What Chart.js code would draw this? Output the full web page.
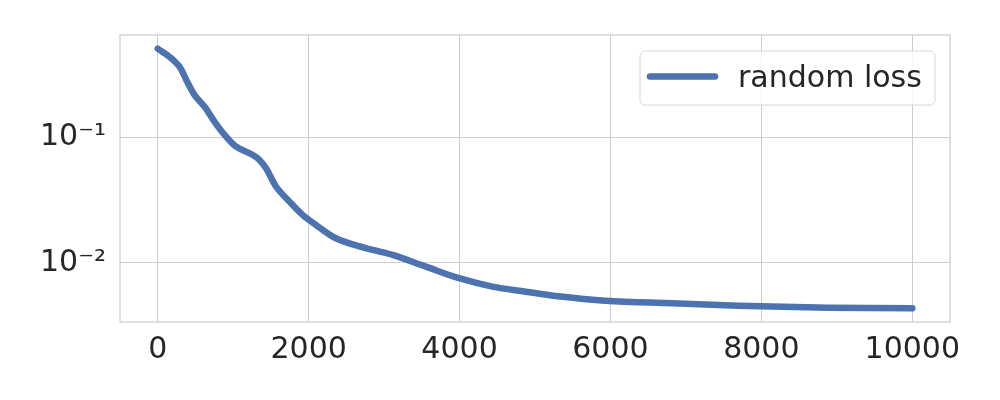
<!DOCTYPE html>
<html>
<head>
<meta charset="utf-8">
<script src="https://cdn.jsdelivr.net/npm/chart.js@4"></script>
<style>
html,body{margin:0;padding:0;background:#ffffff;}
#wrap{width:1000px;height:400px;}
</style>
</head>
<body>
<div id="wrap"><canvas id="c" width="1000" height="400"></canvas></div>
<script>
// ---- data ----
const steps = [0,159,291,380,489,622,754,886,1041,1261,1349,1438,1570,1746,1923,2099,2319,2540,2848,3113,3554,3995,4435,4877,5273,5935,6816,7698,8889,10000];
const lossValues = [0.503,0.433,0.361,0.283,0.215,0.174,0.132,0.104,0.0838,0.0720,0.0657,0.0562,0.0403,0.0307,0.0240,0.0200,0.0162,0.0143,0.0127,0.0116,0.00935,0.00757,0.00649,0.00592,0.00547,0.00502,0.00479,0.00458,0.00442,0.00437];
const seriesLabel = 'random loss';
const xTicks = [0,2000,4000,6000,8000,10000];
const yTicks = [0.01,0.1];
const yTickLabels = ['10\u207B\u00B2','10\u207B\u00B9'];

const FONT = '"DejaVu Sans", sans-serif';
const TEXT = '#262626';
const GRID = '#cccccc';
const LINE = '#4c72b0';

const framePlugin = {
  id: 'frame',
  afterDatasetsDraw(chart) {
    const {ctx, chartArea: a} = chart;
    ctx.save();
    ctx.strokeStyle = GRID;
    ctx.lineWidth = 1.25;
    ctx.strokeRect(a.left, a.top, a.right - a.left, a.bottom - a.top);
    ctx.restore();
  }
};

const legendPlugin = {
  id: 'boxLegend',
  afterDraw(chart) {
    const {ctx, chartArea: a} = chart;
    const ds = chart.data.datasets[0];
    const w = 295, h = 54;
    const x = a.right - 15 - w, y = a.top + 16;
    ctx.save();
    ctx.beginPath();
    if (ctx.roundRect) ctx.roundRect(x, y, w, h, 5); else ctx.rect(x, y, w, h);
    ctx.fillStyle = 'rgba(255,255,255,0.8)';
    ctx.fill();
    ctx.strokeStyle = '#d6d6d6';
    ctx.lineWidth = 1;
    ctx.stroke();
    ctx.beginPath();
    ctx.moveTo(x + 10, y + 25.5);
    ctx.lineTo(x + 75, y + 25.5);
    ctx.strokeStyle = ds.borderColor;
    ctx.lineWidth = ds.borderWidth;
    ctx.lineCap = 'round';
    ctx.stroke();
    ctx.fillStyle = TEXT;
    ctx.font = '30px ' + FONT;
    ctx.textBaseline = 'alphabetic';
    ctx.textAlign = 'left';
    ctx.fillText(ds.label, x + 98, y + 36);
    ctx.restore();
  }
};

new Chart(document.getElementById('c'), {
  type: 'line',
  data: {
    datasets: [{
      label: seriesLabel,
      data: steps.map((s, i) => ({x: s, y: lossValues[i]})),
      borderColor: LINE,
      backgroundColor: LINE,
      borderWidth: 6.5,
      borderCapStyle: 'round',
      borderJoinStyle: 'round',
      pointRadius: 0,
      tension: 0.35,
      fill: false
    }]
  },
  options: {
    responsive: false,
    animation: false,
    devicePixelRatio: 1,
    layout: {padding: {top: 35, right: 50, left: 0, bottom: 0}},
    plugins: {legend: {display: false}, tooltip: {enabled: false}},
    scales: {
      x: {
        type: 'linear',
        min: -500, max: 10500,
        afterBuildTicks: s => { s.ticks = xTicks.map(v => ({value: v})); },
        afterFit: s => { s.height = 78; },
        grid: {color: GRID, lineWidth: 1, drawTicks: false},
        border: {display: false},
        ticks: {
          color: TEXT, font: {family: FONT, size: 30}, padding: 10,
          maxRotation: 0, autoSkip: false,
          callback: v => String(v)
        }
      },
      y: {
        type: 'logarithmic',
        min: 0.0034, max: 0.646,
        afterBuildTicks: s => { s.ticks = yTicks.map(v => ({value: v})); },
        afterFit: s => { s.width = 120; },
        grid: {color: GRID, lineWidth: 1, drawTicks: false},
        border: {display: false},
        ticks: {
          color: TEXT, font: {family: FONT, size: 30}, padding: 14,
          autoSkip: false,
          callback: v => { const i = yTicks.indexOf(v); return i >= 0 ? yTickLabels[i] : ''; }
        }
      }
    }
  },
  plugins: [framePlugin, legendPlugin]
});
</script>
</body>
</html>
